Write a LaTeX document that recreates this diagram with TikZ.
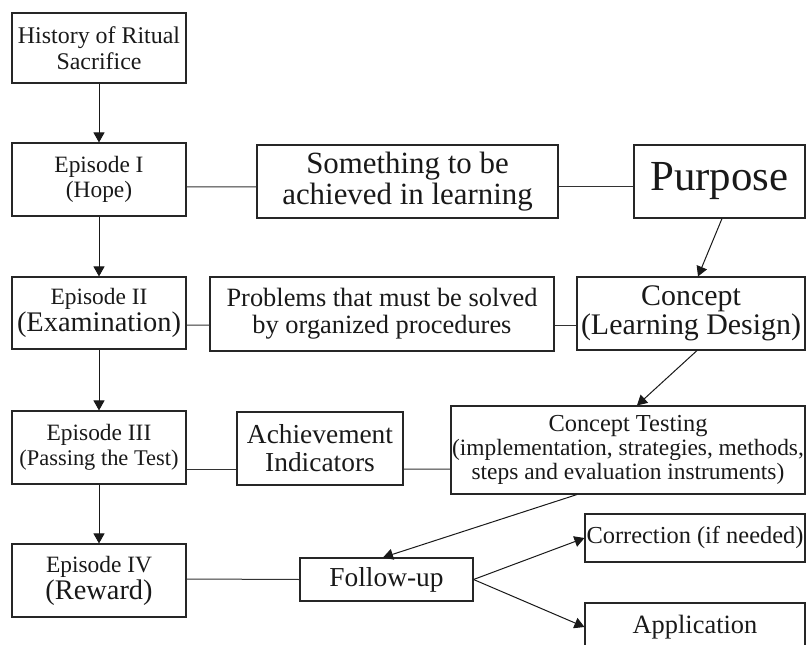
\documentclass[tikz,border=0pt]{standalone}
\usepackage{fontspec}
\setmainfont{Liberation Serif}
\usetikzlibrary{arrows.meta}
\newcommand\fs[2]{\fontsize{#1}{#2}\selectfont}
\tikzset{
  box/.style={draw=black!85, line width=1.1bp, rectangle, inner sep=0pt, align=center, text=black!90},
  link/.style={draw=black!80, line width=1bp},
  arr/.style={draw=black!90, line width=1bp, -{Triangle[width=11bp,length=10bp]}},
}
\begin{document}
\begin{tikzpicture}[x=1bp,y=-1bp]
\useasboundingbox (0,0) rectangle (806,645);
% left column
\node[box, minimum width=174bp, minimum height=70bp, font=\fs{24}{26}] (hist) at (99,48) {History of Ritual\\Sacrifice};
\node[box, minimum width=174bp, minimum height=73bp, font=\fs{23.5}{25}] (ep1) at (99,179.5) {Episode I\\(Hope)};
\node[box, minimum width=174bp, minimum height=72bp, font=\fs{23.5}{27}] (ep2) at (99,313) {Episode II\\{\fs{28.5}{27}(Examination)}};
\node[box, minimum width=174bp, minimum height=73bp, font=\fs{23.5}{25}] (ep3) at (99,447.5) {Episode III\\{\fs{22.5}{25}(Passing the Test)}};
\node[box, minimum width=174bp, minimum height=73bp, font=\fs{23.5}{27}] (ep4) at (99,580.5) {Episode IV\\{\fs{28.5}{27}(Reward)}};
% middle and right
\node[box, minimum width=301bp, minimum height=73bp, font=\fs{31}{31}] (some) at (407.5,181.5) {Something to be\\achieved in learning};
\node[box, minimum width=171bp, minimum height=73bp, font=\fs{43}{44}] (purp) at (719.5,181.5) {Purpose};
\node[box, minimum width=344bp, minimum height=74bp, font=\fs{26.5}{27}] (prob) at (382,314) {Problems that must be solved\\by organized procedures};
\node[box, minimum width=228bp, minimum height=73bp, font=\fs{30}{29}] (conc) at (691,313.5) {Concept\\(Learning Design)};
\node[box, minimum width=166bp, minimum height=73bp, font=\fs{27.5}{28}] (ach) at (320,448.5) {Achievement\\Indicators};
\node[box, minimum width=354bp, minimum height=88bp, font=\fs{23.5}{24}] (ct) at (628,450) {{\fs{24.5}{24}Concept Testing}\\(implementation, strategies, methods,\\steps and evaluation instruments)};
\node[box, minimum width=173bp, minimum height=43bp, font=\fs{27.5}{28}] (fol) at (386.5,579.5) {Follow-up};
\node[box, minimum width=220bp, minimum height=48bp, font=\fs{24.5}{25}] (corr) at (695,538) {Correction (if needed)};
\node[box, minimum width=220bp, minimum height=48bp, font=\fs{26.5}{27}] (app) at (695,627) {Application};
% connectors
\draw[arr] (hist) -- (ep1);
\draw[arr] (ep1) -- (ep2);
\draw[arr] (ep2) -- (ep3);
\draw[arr] (ep3) -- (ep4);
\draw[link] ([yshift=-7.5bp]ep1.east) -- ([yshift=-5.5bp]some.west);
\draw[link] ([yshift=-5.5bp]some.east) -- ([yshift=-5.5bp]purp.west);
\draw[arr] ([xshift=2.5bp]purp.south) -- ([xshift=7bp]conc.north);
\draw[link] ([yshift=-12bp]ep2.east) -- ([yshift=-11bp]prob.west);
\draw[link] ([yshift=-11bp]prob.east) -- ([yshift=-11.5bp]conc.west);
\draw[arr] ([xshift=6bp]conc.south) -- ([xshift=9bp]ct.north);
\draw[link] ([yshift=-21.5bp]ep3.east) -- ([yshift=-20.5bp]ach.west);
\draw[link] ([yshift=-20.5bp]ach.east) -- ([yshift=-19bp]ct.west);
\draw[arr] ([xshift=-51bp]ct.south) -- ([xshift=-3.5bp]fol.north);
\draw[link] ([yshift=1.5bp]ep4.east) -- (fol.west);
\draw[arr] (fol.east) -- (corr.west);
\draw[arr] (fol.east) -- (app.west);
\end{tikzpicture}
\end{document}
